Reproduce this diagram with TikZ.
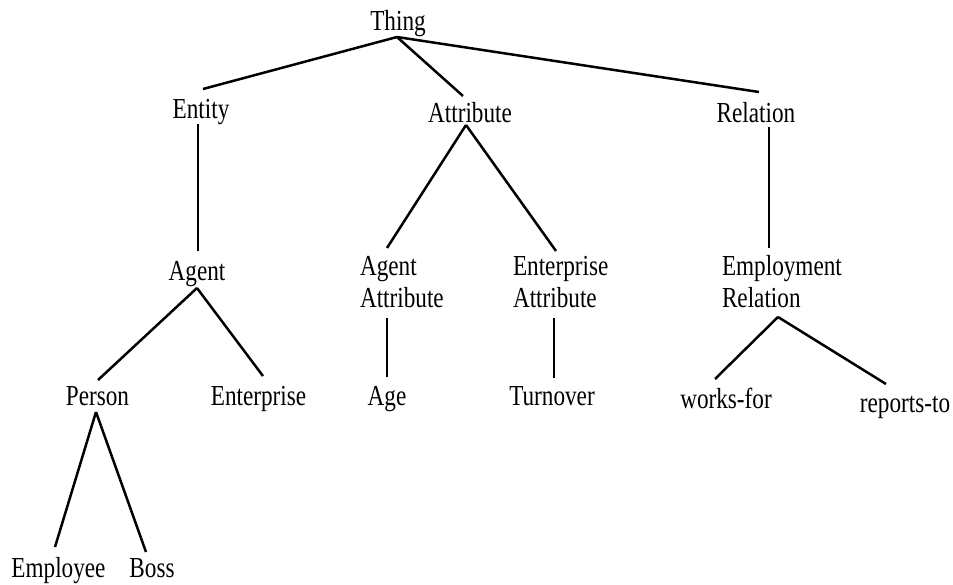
\documentclass[tikz,border=0pt]{standalone}
\usepackage{fontspec}
\setmainfont{Liberation Serif}[FakeStretch=0.8]
\usetikzlibrary{calc}
\begin{document}
\begin{tikzpicture}[x=1pt,y=-1pt,
  every node/.style={inner sep=0pt,outer sep=0pt,anchor=base,
    font=\fontsize{29}{32}\selectfont},
  twoline/.style={anchor=base west,align=left},
  edge/.style={line width=2.5pt}]
\useasboundingbox (0,0) rectangle (953,584);

% top level
\node (thing) at (398,30) {Thing};
\node (entity) at (201,118) {Entity};
\node (attribute) at (470,122) {Attribute};
\node (relation) at (756,122) {Relation};

% second level (base west = baseline of the lower line)
\node (agent) at (197,280) {Agent};
\node[twoline] (agentattr) at (360,307) {Agent\\Attribute};
\node[twoline] (entattr) at (513,307) {Enterprise\\Attribute};
\node[twoline] (emprel) at (722,307) {Employment\\Relation};

% third level
\node (person) at (97.5,405) {Person};
\node (enterprise) at (258.5,405) {Enterprise};
\node (age) at (387,405) {Age};
\node (turnover) at (552,405) {Turnover};
\node (worksfor) at (726,408) {works-for};
\node (reportsto) at (905,412) {reports-to};

% leaves
\node (employee) at (58.5,577) {Employee};
\node (boss) at (152,577) {Boss};

% branches
\draw[edge] ($(thing.base)+(-1,7)$) -- ($(entity.base)+(2,-29)$);
\draw[edge] ($(thing.base)+(-1,7)$) -- ($(attribute.base)+(-7,-26)$);
\draw[edge] ($(thing.base)+(-1,7)$) -- ($(relation.base)+(3,-30)$);

\draw[edge] ($(entity.base)+(-3,6)$) -- ($(agent.base)+(1,-29)$);
\draw[edge] ($(attribute.base)+(-4,3)$) -- ($(agentattr.base west)+(27,-59)$);
\draw[edge] ($(attribute.base)+(-4,3)$) -- ($(entattr.base west)+(43,-56)$);
\draw[edge] ($(relation.base)+(13,5)$) -- ($(emprel.base west)+(47,-59)$);

\draw[edge] ($(agent.base)+(0,8)$) -- ($(person.base)+(0.5,-25)$);
\draw[edge] ($(agent.base)+(0,8)$) -- ($(enterprise.base)+(4.5,-29)$);
\draw[edge] ($(agentattr.base west)+(27,11)$) -- ($(age.base)+(0,-28)$);
\draw[edge] ($(entattr.base west)+(41,11)$) -- ($(turnover.base)+(2,-27)$);
\draw[edge] ($(emprel.base west)+(56,10)$) -- ($(worksfor.base)+(-11,-29)$);
\draw[edge] ($(emprel.base west)+(56,10)$) -- ($(reportsto.base)+(-19,-28)$);

\draw[edge] ($(person.base)+(-1.5,7)$) -- ($(employee.base)+(-3.5,-30)$);
\draw[edge] ($(person.base)+(-1.5,7)$) -- ($(boss.base)+(-6,-25)$);
\end{tikzpicture}
\end{document}
